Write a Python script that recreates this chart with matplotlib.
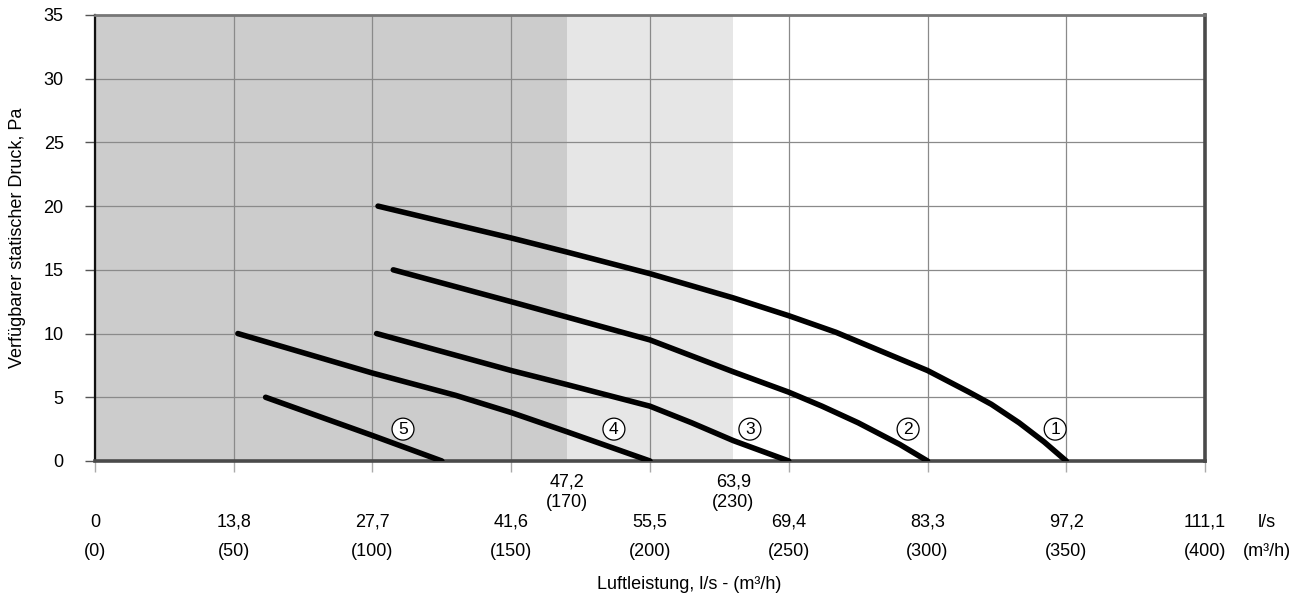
import numpy as np
import matplotlib
matplotlib.use("Agg")
import matplotlib.pyplot as plt

plt.rcParams['font.family'] = ['Liberation Sans', 'DejaVu Sans']

# Kennlinien: Luftleistung (m3/h) -> verfuegbarer statischer Druck (Pa)
q1 = [102, 125, 150, 170, 200, 230, 250, 267, 300, 315, 323, 333, 342, 350]
p1 = [20.0, 18.8, 17.5, 16.4, 14.7, 12.8, 11.4, 10.1, 7.1, 5.4, 4.45, 3.0, 1.5, 0.0]
q2 = [107.5, 150, 170, 200, 230, 250, 262, 275, 290, 300]
p2 = [15.0, 12.5, 11.3, 9.5, 7.0, 5.4, 4.3, 3.0, 1.3, 0.0]
q3 = [101.5, 150, 170, 200, 215, 230, 250]
p3 = [10.0, 7.1, 6.0, 4.3, 3.0, 1.6, 0.0]
q4 = [51.5, 100, 130, 150, 170, 200]
p4 = [10.0, 6.9, 5.15, 3.8, 2.3, 0.0]
q5 = [61.5, 100, 125]
p5 = [5.0, 2.0, 0.0]

kurven = [(q1, p1), (q2, p2), (q3, p3), (q4, p4), (q5, p5)]
nummern = ['1', '2', '3', '4', '5']
nummer_x = [346, 293, 236, 187, 111]
nummer_y = 2.5

# Achsen
m3h_ticks = [0, 50, 100, 150, 200, 250, 300, 350, 400]
ls_labels = ['0', '13,8', '27,7', '41,6', '55,5', '69,4', '83,3', '97,2', '111,1']
pa_ticks = [0, 5, 10, 15, 20, 25, 30, 35]

# Bereichsgrenzen
grenzen = [170, 230]
grenzen_ls = ['47,2', '63,9']

fig = plt.figure(figsize=(13.06, 5.99), dpi=100)
ax = fig.add_axes([0.0727, 0.2304, 0.85, 0.7446])

ax.set_xlim(0, 400)
ax.set_ylim(0, 35)

# Hintergrundbereiche
ax.axvspan(0, grenzen[0], color='#cccccc', zorder=0, lw=0)
ax.axvspan(grenzen[0], grenzen[1], color='#e6e6e6', zorder=0, lw=0)

ax.set_xticks(m3h_ticks)
ax.set_xticklabels([])
ax.set_yticks(pa_ticks)
ax.grid(True, color='#8a8a8a', lw=0.9, zorder=1)
ax.set_axisbelow(True)

ax.tick_params(axis='y', length=7, width=1, color='#555555', pad=15.5, labelsize=13)
ax.tick_params(axis='x', length=8, width=1, color='#aaaaaa')

for s in ['bottom', 'right']:
    ax.spines[s].set_color('#4a4a4a')
    ax.spines[s].set_linewidth(2.6)
ax.spines['top'].set_color('#777777')
ax.spines['top'].set_linewidth(2.0)
ax.spines['left'].set_color('#111111')
ax.spines['left'].set_linewidth(1.6)
for s in ax.spines.values():
    s.set_zorder(2)

for q, p in kurven:
    ax.plot(q, p, color='black', lw=4, solid_capstyle='round',
            solid_joinstyle='round', zorder=3)

for n, x in zip(nummern, nummer_x):
    ax.text(x, nummer_y, n, fontsize=12.5, ha='center', va='center', zorder=4,
            bbox=dict(boxstyle='circle,pad=0.2', fc='white', ec='black', lw=0.9))

# Beschriftung der x-Achse in l/s und m3/h
tr = ax.get_xaxis_transform()
for x, l in zip(m3h_ticks, ls_labels):
    ax.text(x, -0.137, l, transform=tr, ha='center', va='center', fontsize=13)
    ax.text(x, -0.204, '(%d)' % x, transform=tr, ha='center', va='center', fontsize=13)
for x, l in zip(grenzen, grenzen_ls):
    ax.text(x, -0.047, l, transform=tr, ha='center', va='center', fontsize=13)
    ax.text(x, -0.094, '(%d)' % x, transform=tr, ha='center', va='center', fontsize=13)

ax.text(1.056, -0.137, 'l/s', transform=ax.transAxes, ha='center', va='center', fontsize=13)
ax.text(1.056, -0.204, '(m³/h)', transform=ax.transAxes, ha='center', va='center', fontsize=13)
ax.text(0.535, -0.278, 'Luftleistung, l/s - (m³/h)', transform=ax.transAxes,
        ha='center', va='center', fontsize=13)

ax.set_ylabel('Verfügbarer statischer Druck, Pa', fontsize=13)
ax.yaxis.set_label_coords(-0.062, 0.5)

fig.savefig('out.png', dpi=100)
